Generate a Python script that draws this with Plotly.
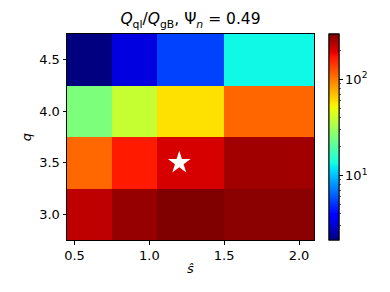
import numpy as np
import plotly.graph_objects as go

# data
s_hat = [0.6, 0.9, 1.2, 1.8]
q_vals = [3.0, 3.5, 4.0, 4.5]
Q_ratio = [
    [225, 266, 294, 280],   # q = 3.0
    [110, 165, 204, 255],   # q = 3.5
    [25.1, 38.8, 58.5, 111],  # q = 4.0
    [2.14, 3.24, 5.45, 13.2],  # q = 4.5
]
star_s = [1.2]
star_q = [3.5]
x_ticks = [0.5, 1.0, 1.5, 2.0]
y_ticks = [3.0, 3.5, 4.0, 4.5]

# matplotlib jet colormap
def jet(t):
    r = np.interp(t, [0, 0.35, 0.66, 0.89, 1], [0, 0, 1, 1, 0.5])
    g = np.interp(t, [0, 0.125, 0.375, 0.64, 0.91, 1], [0, 0, 1, 1, 0, 0])
    b = np.interp(t, [0, 0.11, 0.34, 0.65, 1], [0.5, 1, 1, 0, 0])
    return f"rgb({int(round(r*255))},{int(round(g*255))},{int(round(b*255))})"

stops = sorted(set([0, 0.11, 0.125, 0.34, 0.35, 0.375, 0.64, 0.65, 0.66, 0.89, 0.91, 1.0]))
colorscale = [[t, jet(t)] for t in stops]

z = np.log10(np.array(Q_ratio, dtype=float))
zmin, zmax = float(z.min()), float(z.max())

major = [10, 100]
minor = [3, 4, 5, 6, 7, 8, 9, 20, 30, 40, 50, 60, 70, 80, 90, 200]

FONT = "DejaVu Sans"
CB_X = (329 - 67) / 247
fig = go.Figure()
fig.add_trace(go.Heatmap(
    x=s_hat, y=q_vals, z=z, colorscale=colorscale, zmin=zmin, zmax=zmax,
    hoverinfo="skip",
    colorbar=dict(
        x=CB_X, xanchor="left", xref="paper",
        y=0.5, yanchor="middle", len=1, lenmode="fraction",
        thickness=10, thicknessmode="pixels",
        outlinewidth=1, outlinecolor="black",
        tickmode="array", tickvals=[np.log10(v) for v in major],
        ticktext=["10<sup>1</sup>", "10<sup>2</sup>"],
        ticks="outside", ticklen=3.5, tickwidth=1, tickcolor="black",
        tickfont=dict(family=FONT, size=13, color="black"),
        xpad=0, ypad=0,
    ),
))
# minor ticks on colorbar
fig.add_trace(go.Scatter(
    x=[s_hat[0], s_hat[0]], y=[q_vals[0], q_vals[0]], mode="markers",
    hoverinfo="skip", showlegend=False,
    marker=dict(
        color=[zmin, zmax], colorscale=colorscale, cmin=zmin, cmax=zmax,
        opacity=0, showscale=True,
        colorbar=dict(
            x=CB_X, xanchor="left", xref="paper",
            y=0.5, yanchor="middle", len=1, lenmode="fraction",
            thickness=10, thicknessmode="pixels",
            outlinewidth=1, outlinecolor="black",
            tickmode="array", tickvals=[np.log10(v) for v in minor],
            showticklabels=False,
            ticks="outside", ticklen=2, tickwidth=0.6, tickcolor="black",
            xpad=0, ypad=0,
        ),
    ),
))
fig.add_trace(go.Scatter(
    x=star_s, y=star_q, mode="markers", hoverinfo="skip", showlegend=False,
    marker=dict(symbol="star", size=17, color="white", line=dict(width=0)),
))

axis_common = dict(
    showgrid=False, zeroline=False, showline=True, linecolor="black",
    linewidth=1, mirror=True, ticks="outside", ticklen=3.5, tickwidth=1,
    tickcolor="black", tickfont=dict(family=FONT, size=13, color="black"),
    automargin=False,
)
fig.update_layout(
    width=390, height=292,
    margin=dict(l=67, r=76, t=34, b=52, autoexpand=False),
    paper_bgcolor="white", plot_bgcolor="white",
    font=dict(family=FONT, color="black"),
    title=dict(
        text="<i>Q</i><sub>ql</sub>/<i>Q</i><sub>gB</sub>, Ψ<sub><i>n</i></sub> = 0.49",
        x=(67 + 314) / 2 / 390, xanchor="center", y=1 - 19 / 292, yanchor="middle",
        font=dict(family=FONT, size=15.5, color="black"),
    ),
    xaxis=dict(axis_common, range=[0.45, 2.1], tickvals=x_ticks,
               ticktext=[f"{v:.1f}" for v in x_ticks],
               title=dict(text="<i>ŝ</i>", font=dict(family=FONT, size=13), standoff=1)),
    yaxis=dict(axis_common, range=[2.75, 4.75], tickvals=y_ticks,
               ticktext=[f"{v:.1f}" for v in y_ticks],
               title=dict(text="<i>q</i>", font=dict(family=FONT, size=13), standoff=4)),
)
fig.write_html("out.html", config={"displayModeBar": False, "staticPlot": True},
               post_script="document.body.style.margin='0';document.body.style.overflow='hidden';")
